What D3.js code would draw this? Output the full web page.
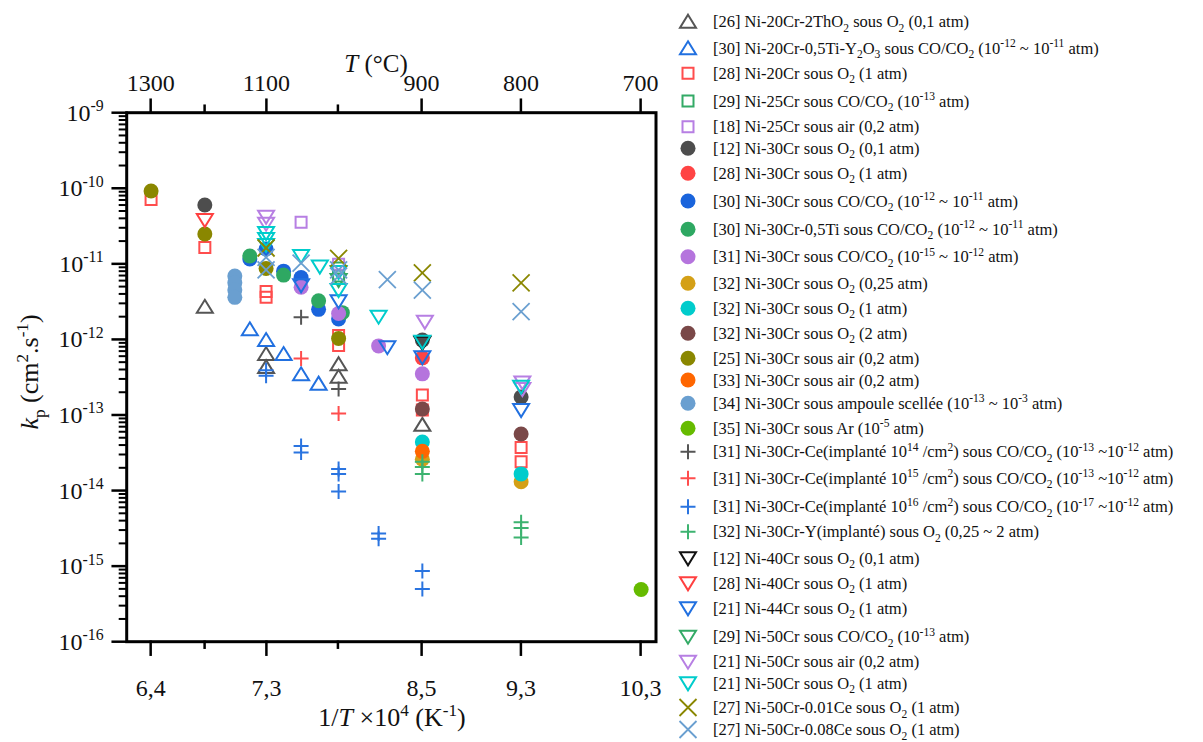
<!DOCTYPE html>
<html><head><meta charset="utf-8">
<script src="https://cdn.jsdelivr.net/npm/d3@7"></script>
<style>
body{margin:0;background:#fff}
svg{display:block}
text{font-family:"Liberation Serif","Times New Roman",serif;fill:#111}
</style>
</head><body>
<svg id="c" width="1203" height="742"></svg>
<script>
// ---------------- DATA ----------------
// x = 1/T x 10^4 (K^-1), y = kp (cm^2.s^-1)
const topTempTicks = [1300, 1200, 1100, 1000, 900, 800, 700];
const topTickLabels = ["1300", "", "1100", "", "900", "800", "700"];
const bottomTickLabels = ["6,4", "", "7,3", "", "8,5", "9,3", "10,3"];
const yTickExponents = [-9, -10, -11, -12, -13, -14, -15, -16];

const legendLabels = [
  "[26] Ni-20Cr-2ThO_{2} sous O_{2} (0,1 atm)",
  "[30] Ni-20Cr-0,5Ti-Y_{2}O_{3} sous CO/CO_{2} (10^{-12} ~ 10^{-11} atm)",
  "[28] Ni-20Cr sous O_{2} (1 atm)",
  "[29] Ni-25Cr sous CO/CO_{2} (10^{-13} atm)",
  "[18] Ni-25Cr sous air (0,2 atm)",
  "[12] Ni-30Cr sous O_{2} (0,1 atm)",
  "[28] Ni-30Cr sous O_{2} (1 atm)",
  "[30] Ni-30Cr sous CO/CO_{2} (10^{-12} ~ 10^{-11} atm)",
  "[30] Ni-30Cr-0,5Ti sous CO/CO_{2} (10^{-12} ~ 10^{-11} atm)",
  "[31] Ni-30Cr sous CO/CO_{2} (10^{-15} ~ 10^{-12} atm)",
  "[32] Ni-30Cr sous O_{2} (0,25 atm)",
  "[32] Ni-30Cr sous O_{2} (1 atm)",
  "[32] Ni-30Cr sous O_{2} (2 atm)",
  "[25] Ni-30Cr sous air (0,2 atm)",
  "[33] Ni-30Cr sous air (0,2 atm)",
  "[34] Ni-30Cr sous ampoule scellée (10^{-13} ~ 10^{-3} atm)",
  "[35] Ni-30Cr sous Ar (10^{-5} atm)",
  "[31] Ni-30Cr-Ce(implanté 10^{14} /cm^{2}) sous CO/CO_{2} (10^{-13} ~10^{-12} atm)",
  "[31] Ni-30Cr-Ce(implanté 10^{15} /cm^{2}) sous CO/CO_{2} (10^{-13} ~10^{-12} atm)",
  "[31] Ni-30Cr-Ce(implanté 10^{16} /cm^{2}) sous CO/CO_{2} (10^{-17} ~10^{-12} atm)",
  "[32] Ni-30Cr-Y(implanté) sous O_{2} (0,25 ~ 2 atm)",
  "[12] Ni-40Cr sous O_{2} (0,1 atm)",
  "[28] Ni-40Cr sous O_{2} (1 atm)",
  "[21] Ni-44Cr sous O_{2} (1 atm)",
  "[29] Ni-50Cr sous CO/CO_{2} (10^{-13} atm)",
  "[21] Ni-50Cr sous air (0,2 atm)",
  "[21] Ni-50Cr sous O_{2} (1 atm)",
  "[27] Ni-50Cr-0.01Ce sous O_{2} (1 atm)",
  "[27] Ni-50Cr-0.08Ce sous O_{2} (1 atm)"
];

const d26_NiCrThO2 = [[6.79,2.7e-12],[7.28,6.4e-13],[7.28,4.3e-13],[7.86,4.7e-13],[7.86,3.2e-13],[8.53,7.4e-14]];
const d30_NiCrTiY2O3 = [[7.15,1.36e-12],[7.28,9.8e-13],[7.42,6.4e-13],[7.56,3.45e-13],[7.70,2.6e-13]];
const d28_Ni20Cr = [[6.36,7.1e-11],[6.79,1.64e-11],[7.28,4.3e-12],[7.28,3.6e-12],[7.86,1.13e-12],[7.86,8.3e-13],[8.53,1.84e-13],[8.53,1.16e-13],[9.32,3.7e-14],[9.32,2.4e-14]];
const d29_Ni25Cr = [[7.86,8.8e-12],[7.86,6.9e-12]];
const d18_Ni25Cr = [[7.56,3.55e-11],[7.86,9.9e-12]];
const d12_Ni30Cr = [[6.79,6.0e-11],[8.53,9.8e-13],[9.32,1.73e-13]];
const d28_Ni30Cr = [[8.53,5.7e-13]];
const d30_Ni30Cr = [[7.15,1.16e-11],[7.28,1.57e-11],[7.42,8.0e-12],[7.56,6.6e-12],[7.70,2.5e-12],[7.86,1.86e-12]];
const d30_Ni30CrTi = [[7.15,1.27e-11],[7.42,7.1e-12],[7.70,3.25e-12],[7.89,2.26e-12]];
const d31_Ni30Cr = [[7.56,4.9e-12],[7.86,2.2e-12],[8.18,8.2e-13],[8.53,3.5e-13]];
const d32_Ni30Cr_025 = [[8.53,2.6e-14],[9.32,1.31e-14]];
const d32_Ni30Cr_1 = [[8.53,4.4e-14],[9.32,1.66e-14]];
const d32_Ni30Cr_2 = [[8.53,1.2e-13],[9.32,5.6e-14]];
const d25_Ni30Cr = [[6.36,9.2e-11],[6.79,2.48e-11],[7.28,8.7e-12],[7.86,1.03e-12]];
const d33_Ni30Cr = [[8.53,3.3e-14]];
const d34_Ni30Cr = [[7.03,6.9e-12],[7.03,5.6e-12],[7.03,4.5e-12],[7.03,3.6e-12]];
const d35_Ni30Cr = [[10.28,4.9e-16]];
const d31_Ce14 = [[7.56,1.96e-12],[7.86,2.2e-13]];
const d31_Ce15 = [[7.56,5.6e-13],[7.86,1.05e-13]];
const d31_Ce16 = [[7.28,3.9e-13],[7.28,3.3e-13],[7.56,3.9e-14],[7.56,3.2e-14],[7.86,1.93e-14],[7.86,1.66e-14],[7.86,9.7e-15],[8.18,2.7e-15],[8.18,2.3e-15],[8.53,8.6e-16],[8.53,5.0e-16]];
const d32_Y = [[8.53,2.4e-14],[8.53,2.05e-14],[8.53,1.66e-14],[9.32,3.8e-15],[9.32,3.2e-15],[9.32,2.4e-15]];
const d12_Ni40Cr = [[8.53,9.0e-13]];
const d28_Ni40Cr = [[6.79,3.8e-11]];
const d21_Ni44Cr = [[7.56,5.2e-12],[7.86,3.2e-12],[8.25,7.9e-13],[8.53,5.8e-13],[9.32,1.16e-13]];
const d29_Ni50Cr = [[7.86,6.1e-12]];
const d21_Ni50Cr_air = [[7.28,4.2e-11],[7.28,3.4e-11],[8.55,1.71e-12],[9.33,2.7e-13],[9.33,2.2e-13]];
const d21_Ni50Cr_O2 = [[7.28,2.56e-11],[7.28,2.13e-11],[7.28,1.78e-11],[7.56,1.27e-11],[7.71,9.2e-12],[7.86,7.8e-12],[7.86,4.5e-12],[8.18,2.0e-12],[8.53,9.3e-13],[9.32,2.37e-13]];
const d27_Ce001 = [[7.28,1.62e-11],[7.86,1.18e-11],[8.53,7.6e-12],[9.32,5.6e-12]];
const d27_Ce008 = [[7.28,1.22e-11],[7.28,8.3e-12],[7.56,1.02e-11],[7.86,8.3e-12],[7.86,6.9e-12],[8.25,6.2e-12],[8.53,4.5e-12],[9.32,2.33e-12]];

// ---------------- STYLE ----------------
const seriesData = [d26_NiCrThO2,d30_NiCrTiY2O3,d28_Ni20Cr,d29_Ni25Cr,d18_Ni25Cr,d12_Ni30Cr,d28_Ni30Cr,d30_Ni30Cr,d30_Ni30CrTi,d31_Ni30Cr,
  d32_Ni30Cr_025,d32_Ni30Cr_1,d32_Ni30Cr_2,d25_Ni30Cr,d33_Ni30Cr,d34_Ni30Cr,d35_Ni30Cr,d31_Ce14,d31_Ce15,d31_Ce16,d32_Y,
  d12_Ni40Cr,d28_Ni40Cr,d21_Ni44Cr,d29_Ni50Cr,d21_Ni50Cr_air,d21_Ni50Cr_O2,d27_Ce001,d27_Ce008];
const markers = ["tri","tri","sq","sq","sq","circ","circ","circ","circ","circ","circ","circ","circ","circ","circ","circ","circ",
  "plus","plus","plus","plus","tridown","tridown","tridown","tridown","tridown","tridown","x","x"];
const colors = ["#555555","#2170e0","#ff4d4d","#33aa66","#b77fe3","#4d4d4d","#ff4444","#1a64dc","#2ea862","#b574dd",
  "#d4a017","#00cccc","#7a4848","#8a8700","#ff6600","#6a9fd0","#66bb00",
  "#555555","#ff4d4d","#2a74e0","#3db370",
  "#111111","#ff4040","#2170e0","#33aa66","#b77fe3","#00cccc","#8a8700","#6a9fd0"];
const legendRowY = [21.7,48.3,73.3,101,126.7,148.3,173.3,201,229.3,256.7,283.3,308.3,333.3,358.3,380,403.3,428.3,
  451.7,478.3,506.7,531.7,558.3,583.3,608.3,636.7,661.7,683.3,707.5,729.5];

const paths = {
  tri: "M0,-7L8,6L-8,6Z",
  tridown: "M-8,-6L8,-6L0,7Z",
  sq: "M-5.5,-5.5H5.5V5.5H-5.5Z",
  plus: "M-7.5,0H7.5M0,-7.5V7.5",
  x: "M-8.5,-8.5L8.5,8.5M8.5,-8.5L-8.5,8.5"
};

const svg = d3.select("#c");
const L = 126.7, R = 656, T = 112.7, B = 641.7;
const x = d3.scaleLinear().domain([6.165, 10.399]).range([L, R]);
const y = d3.scaleLog().domain([1e-16, 1e-9]).range([B, T]);
const tempToX = t => 1e4 / (t + 273.15);

function rich(textSel, str, base, supScale) {
  const sc = supScale || 0.66;
  const re = /(_\{[^}]*\}|\^\{[^}]*\}|\*[^*]*\*)/g;
  const parts = str.split(re).filter(s => s !== "");
  let cur = 0;
  parts.forEach(p => {
    let t = p, target = 0, size = base, italic = false;
    if (p.startsWith("_{")) { t = p.slice(2, -1); target = base * 0.28; size = base * sc; }
    else if (p.startsWith("^{")) { t = p.slice(2, -1); target = -base * 0.4; size = base * sc; }
    else if (p.startsWith("*")) { t = p.slice(1, -1); italic = true; }
    const ts = textSel.append("tspan").attr("font-size", size + "px").text(t);
    if (target !== cur) { ts.attr("dy", (target - cur) + "px"); cur = target; }
    if (italic) ts.attr("font-style", "italic");
  });
}

// ---------------- AXES ----------------
const majorIdx = topTickLabels.map((l, i) => l !== "" ? i : -1).filter(i => i >= 0);
const tickX = topTempTicks.map(tempToX);

const ax = svg.append("g").attr("stroke", "#000").attr("stroke-width", 2.5).attr("stroke-linecap", "square");
ax.selectAll(".tt").data(topTempTicks.map((t, i) => i)).join("line")
  .attr("x1", i => x(tickX[i])).attr("x2", i => x(tickX[i]))
  .attr("y1", T).attr("y2", i => T - (topTickLabels[i] ? 13 : 7));
ax.selectAll(".bt").data(topTempTicks.map((t, i) => i)).join("line")
  .attr("x1", i => x(tickX[i])).attr("x2", i => x(tickX[i]))
  .attr("y1", B).attr("y2", i => B + (bottomTickLabels[i] ? 13 : 6));
const yMajor = yTickExponents.map(e => Math.pow(10, e));
const yMinor = [];
yTickExponents.slice(1).forEach(e => { for (let m = 2; m <= 9; m++) yMinor.push(m * Math.pow(10, e)); });
ax.selectAll(".ymaj").data(yMajor).join("line")
  .attr("x1", L - 14).attr("x2", L).attr("y1", d => y(d)).attr("y2", d => y(d));
ax.selectAll(".ymin").data(yMinor).join("line")
  .attr("x1", L - 7).attr("x2", L).attr("y1", d => y(d)).attr("y2", d => y(d)).attr("stroke-width", 2);

svg.selectAll(".ttl").data(majorIdx).join("text")
  .attr("x", i => x(tickX[i])).attr("y", T - 22).attr("text-anchor", "middle")
  .attr("font-size", "24px").text(i => topTickLabels[i]);
svg.selectAll(".btl").data(majorIdx).join("text")
  .attr("x", i => x(tickX[i])).attr("y", B + 54).attr("text-anchor", "middle")
  .attr("font-size", "24px").text(i => bottomTickLabels[i]);
svg.selectAll(".ytl").data(yTickExponents).join("text")
  .attr("x", L - 23).attr("y", e => y(Math.pow(10, e)) + 8).attr("text-anchor", "end")
  .each(function(e) { rich(d3.select(this), "10^{" + e + "}", 24); });

// axis titles
const tt = svg.append("text").attr("x", 376).attr("y", 72).attr("text-anchor", "middle");
rich(tt, "*T* (°C)", 25);
const bt = svg.append("text").attr("x", 392).attr("y", 726).attr("text-anchor", "middle");
rich(bt, "1/*T* ×10^{4} (K^{-1})", 26);
const yt = svg.append("text").attr("transform", "translate(38,372) rotate(-90)").attr("text-anchor", "middle");
rich(yt, "*k*_{p} (cm^{2}.s^{-1})", 26);

// ---------------- MARKS ----------------
function drawMarker(g, m, c) {
  if (m === "circ") {
    g.append("circle").attr("r", 7.5).attr("fill", c);
  } else {
    g.append("path").attr("d", paths[m]).attr("fill", "none").attr("stroke", c)
      .attr("stroke-width", m === "x" ? 1.8 : 2).attr("stroke-linejoin", "miter");
  }
}
const plot = svg.append("g");
seriesData.forEach((data, si) => {
  const g = plot.append("g");
  g.selectAll("g").data(data).join("g")
    .attr("transform", d => `translate(${x(d[0])},${y(d[1])})`)
    .each(function() { drawMarker(d3.select(this), markers[si], colors[si]); });
});

svg.append("rect").attr("x", L).attr("y", T).attr("width", R - L).attr("height", B - T)
  .attr("fill", "none").attr("stroke", "#000").attr("stroke-width", 3);

// ---------------- LEGEND ----------------
const lg = svg.append("g");
legendLabels.forEach((lab, i) => {
  const row = lg.append("g").attr("transform", `translate(0,${legendRowY[i]})`);
  const sym = row.append("g").attr("transform", "translate(688,0)");
  drawMarker(sym, markers[i], colors[i]);
  const t = row.append("text").attr("x", 713).attr("y", 5.5);
  rich(t, lab, 16.5, 0.7);
});
</script>
</body></html>
